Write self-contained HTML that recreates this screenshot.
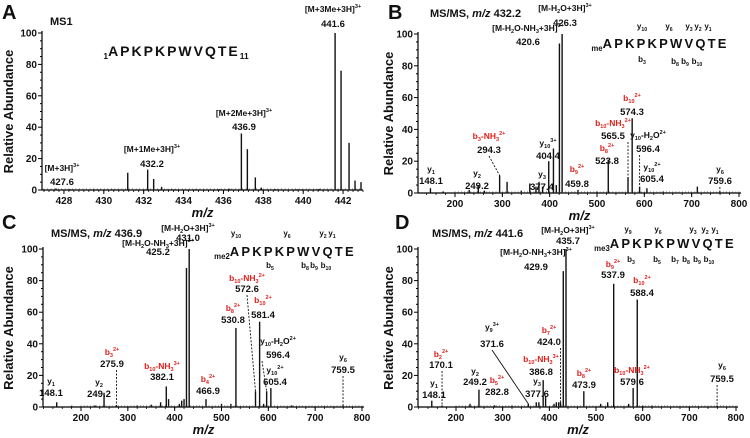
<!DOCTYPE html>
<html><head><meta charset="utf-8"><style>
html,body{margin:0;padding:0;background:#fff;}
svg{display:block;font-family:"Liberation Sans",Arial,sans-serif;}
</style></head><body>
<svg id="fig" width="750" height="438" viewBox="0 0 750 438" xmlns="http://www.w3.org/2000/svg"></svg>
<script>
// ---------- Panel A data ----------
const aMz  = [427.6,428.3,429.5,430.4,431.2,432.2,432.5,432.9,433.4,434.6,435.8,436.3,436.9,437.2,437.6,437.9,438.6,439.7,440.8,441.6,441.9,442.3,442.6,442.9];
const aInt = [1,0.6,0.5,0.5,11,13,7,2,0.6,0.5,0.6,0.8,36,26,8,1.5,0.6,0.5,0.7,100,76,30,6,5];
// ---------- Panel B data ----------
const bMz  = [148.1,175,230,249.2,262,294.3,310,340,358,371,377.4,385,398,408,414,420.6,426.3,459.8,500,523.8,565.5,574.3,590,605.4,640,712,759.6];
const bInt = [3,1,2,5,1.5,11,7,1.5,6,4,7,4,20,28,5,94,100,2,1,21,10,47,4,3,1,4,1];
// ---------- Panel C data ----------
const cMz  = [148.1,180,230,249.2,275.9,320,350,370,382.1,387,410,415,420,425.2,431.0,466.9,500,520,530.8,572.6,581.4,590,596.4,605.4,650,759.5];
const cInt = [3,0.8,1,9,1,1,1.5,3,13,5,2,4,5,88,100,5,2,2,50,10,54,2,10,12,1,1];
// ---------- Panel D data ----------
const dMz  = [148.1,170.1,230,249.2,282.8,320,355,372,377.6,386.8,392,410,415,420,424.0,429.9,435.7,473.9,510,525,537.9,570,579.6,588.4,600,620,759.5];
const dInt = [4,1,2,11,1,1,2,3,3,17,7,2,3,3,3,86,100,10,2,3,78,2,12,68,1,1,1];
// ---------- tick labels ----------
const aXTicks = [428,430,432,434,436,438,440,442];
const msXTicks = [200,300,400,500,600,700,800];
const yTicks = [0,20,40,60,80,100];

const NS="http://www.w3.org/2000/svg";
const svg=document.getElementById('fig');
function el(tag,attrs,parent){const e=document.createElementNS(NS,tag);for(const k in attrs)e.setAttribute(k,attrs[k]);(parent||svg).appendChild(e);return e;}

function rich(t,x,y,opts,parent){
  const sz=opts.size||9;
  const tx=el('text',{x:x,y:y,'text-anchor':opts.anchor||'middle','font-size':sz,'font-weight':opts.weight||'bold',fill:opts.color||'#111'},parent);
  const re=/(_[^_]*_|\^[^^]*\^|[^_^]+)/g;let m;
  while((m=re.exec(t))){const s=m[0];
    if(s[0]==='_'){const a=el('tspan',{'font-size':sz*0.65,dy:2},tx);a.textContent=s.slice(1,-1);const b=el('tspan',{dy:-2,'font-size':sz},tx);b.textContent='\u200B';}
    else if(s[0]==='^'){const a=el('tspan',{'font-size':sz*0.65,dy:-4},tx);a.textContent=s.slice(1,-1);const b=el('tspan',{dy:4,'font-size':sz},tx);b.textContent='\u200B';}
    else{const a=el('tspan',{},tx);a.textContent=s;}
  }
  return tx;
}

function panel(p){
  const g=el('g',{});
  
  
  const sx=v=>p.xr[0]+(v-p.xd[0])*(p.xr[1]-p.xr[0])/(p.xd[1]-p.xd[0]);
  const sy=v=>p.yr[1]-v*(p.yr[1]-p.yr[0])/100;
  const base=p.yr[1];
  const ya=el('line',{x1:p.ax,y1:p.yr[0]-2,x2:p.ax,y2:base,stroke:'#000','stroke-width':1.2},g);
  
  const xa=el('line',{x1:p.ax,y1:base,x2:p.axEnd,y2:base,stroke:'#000','stroke-width':1.2},g);
  
  for(let v=0;v<=100;v+=5){el('line',{x1:p.ax-(v%20===0?4:2),y1:sy(v),x2:p.ax,y2:sy(v),stroke:'#000','stroke-width':1},g);}
  yTicks.forEach(v=>{const t=el('text',{x:p.ax-5,y:sy(v)+3.5,'text-anchor':'end','font-size':10,'font-weight':'bold',fill:'#111'},g);t.textContent=v;
    });
  for(let v=p.minorStart;v<=p.xd[1]+1e-9;v+=p.minor){const x=sx(v);if(x<p.ax||x>p.axEnd)continue;el('line',{x1:x,y1:base,x2:x,y2:base+2,stroke:'#000','stroke-width':0.8},g);}
  p.xTicks.forEach(v=>{const x=sx(v);el('line',{x1:x,y1:base,x2:x,y2:base+4,stroke:'#000','stroke-width':1},g);
    const t=el('text',{x:x,y:base+14,'text-anchor':'middle','font-size':10,'font-weight':'bold',fill:'#111'},g);t.textContent=v;
    });
  const yt=el('text',{x:0,y:0,transform:`translate(${p.ytX},${(p.yr[0]+base)/2}) rotate(-90)`,'text-anchor':'middle','font-size':13,'font-weight':'bold',fill:'#111'},g);
  yt.textContent='Relative Abundance';
  const xt=el('text',{x:(p.ax+p.axEnd)/2,y:base+27,'text-anchor':'middle','font-size':13,'font-weight':'bold','font-style':'italic',fill:'#111'},g);
  xt.textContent='m/z';
  p.mz.forEach((m,i)=>{const b=el('line',{x1:sx(m),y1:base,x2:sx(m),y2:sy(p.int[i]),stroke:'#111','stroke-width':1.4},g);
    });
  for(let v=p.xd[0];v<p.xd[1];v+=(p.xd[1]-p.xd[0])/90){el('line',{x1:sx(v),y1:base,x2:sx(v),y2:base-1.5,stroke:'#333','stroke-width':0.7},g);}
  p.labels.forEach(L=>{
    const lg=el('g',{},g);
    
    rich(L.t,L.x,L.y1,{color:L.red?'#e0201b':'#111',size:8.5},lg);
    rich(L.v,L.x,L.y2,{size:9.5},lg);
    if(L.lead){const pk=p.mz.indexOf(L.lead);const px=sx(L.lead);const py=L.toBase?base:sy(p.int[pk]);
      const x1=L.vert?px:(L.lx!==undefined?L.lx:L.x);
      el('line',{x1:x1,y1:L.y2+3,x2:px,y2:py,stroke:'#111','stroke-width':0.9,'stroke-dasharray':L.solid?'':'2,1.5'},lg);}
  });
  const pl=el('text',{x:p.letter[0],y:p.letter[1],'font-size':20,'font-weight':'bold',fill:'#111'},g);pl.textContent=p.letterText;
  
  const ti=el('text',{x:p.title[0],y:p.title[1],'font-size':11,'font-weight':'bold',fill:'#111'},g);
  
  if(p.titleText==='MS1'){ti.textContent='MS1';}
  else{const a=el('tspan',{},ti);a.textContent='MS/MS, ';const b=el('tspan',{'font-style':'italic'},ti);b.textContent='m/z';const c=el('tspan',{},ti);c.textContent=' '+p.titleText;}
  const sg=el('g',{},g);
  const st=el('text',{x:p.seq[0],y:p.seq[1],'text-anchor':'middle','font-size':p.seqSize,'font-weight':'bold',fill:'#111','letter-spacing':p.seqSpace||0},sg);
  const pre=el('tspan',{'font-size':p.seqSize*0.6,dy:3,'letter-spacing':0},st);pre.textContent=p.seqPre;
  const mid=el('tspan',{dy:-3},st);mid.textContent=p.seqText;
  if(p.seqPost){const po=el('tspan',{'font-size':p.seqSize*0.6,dy:3,'letter-spacing':0},st);po.textContent=p.seqPost;}
  (p.frag||[]).forEach(f=>{rich(f[0],f[1],f[2],{size:8},sg);});
  return sx;
}

panel({name:'panel-a-ms1',xd:[427,443],xr:[44,363],yr:[33,190],ax:42,axEnd:363,mz:aMz,int:aInt,xTicks:aXTicks,minor:0.25,minorStart:427,ytX:13,
  letter:[2,19],letterText:'A',title:[50,25],titleText:'MS1',seq:[176,56],seqSize:14,seqSpace:2,seqPre:'1',seqText:'APKPKPWVQTE',seqPost:'11',
  labels:[
    {t:'[M+3H]^3+^',v:'427.6',x:62,y1:171,y2:185},
    {t:'[M+1Me+3H]^3+^',v:'432.2',x:152,y1:152,y2:167},
    {t:'[M+2Me+3H]^3+^',v:'436.9',x:244,y1:116,y2:130},
    {t:'[M+3Me+3H]^3+^',v:'441.6',x:333,y1:12,y2:27}
  ]});

panel({name:'panel-b-msms-432',xd:[200,800],xr:[455,739],yr:[34,193],ax:418,axEnd:741,mz:bMz,int:bInt,xTicks:msXTicks,minor:20,minorStart:120,ytX:393,
  letter:[388,19],letterText:'B',title:[430,17],titleText:'432.2',seq:[660,48],seqSize:13,seqSpace:2.2,seqPre:'me',seqText:'APKPKPWVQTE',
  frag:[['y_10_',642,29],['y_6_',669,29],['y_3_',689,29],['y_2_',698,29],['y_1_',708,29],['b_3_',642,62],['b_8_',675,64],['b_9_',685,64],['b_10_',697,64]],
  labels:[
    {t:'y_1_',v:'148.1',x:431,y1:172,y2:184},
    {t:'y_2_',v:'249.2',x:477,y1:176,y2:189},
    {t:'b_3_-NH_3_^2+^',v:'294.3',x:489,y1:139,y2:153,red:1,lead:294.3,lx:489},
    {t:'y_3_',v:'377.4',x:542,y1:177,y2:190},
    {t:'y_10_^3+^',v:'404.4',x:548,y1:146,y2:159},
    {t:'b_9_^2+^',v:'459.8',x:577,y1:172,y2:187,red:1},
    {t:'b_8_^2+^',v:'523.8',x:607,y1:151,y2:164,red:1},
    {t:'b_10_-NH_3_^2+^',v:'565.5',x:613,y1:126,y2:139,red:1,lead:565.5,vert:1},
    {t:'b_10_^2+^',v:'574.3',x:632,y1:101,y2:115,red:1},
    {t:'y_10_-H_2_O^2+^',v:'596.4',x:648,y1:138,y2:152,lead:590,vert:1},
    {t:'y_10_^2+^',v:'605.4',x:652,y1:170,y2:182},
    {t:'y_6_',v:'759.6',x:720,y1:172,y2:184,lead:759.6,toBase:1,vert:1},
    {t:'[M-H_2_O+3H]^3+^',v:'426.3',x:565,y1:11,y2:26},
    {t:'[M-H_2_O-NH_3_+3H]^3+^',v:'420.6',x:528,y1:31,y2:45}
  ]});

panel({name:'panel-c-msms-436',xd:[200,800],xr:[81,362],yr:[249,407],ax:43,axEnd:364,mz:cMz,int:cInt,xTicks:msXTicks,minor:20,minorStart:120,ytX:13,
  letter:[2,229],letterText:'C',title:[51,237],titleText:'436.9',seq:[285,256],seqSize:13,seqSpace:2.2,seqPre:'me2',seqText:'APKPKPWVQTE',
  frag:[['y_10_',236,236],['y_6_',287,236],['y_2_',323,236],['y_1_',332,236],['b_5_',270,268],['b_8_',305,268],['b_9_',314,268],['b_10_',326,268]],
  labels:[
    {t:'y_1_',v:'148.1',x:51,y1:384,y2:396},
    {t:'y_2_',v:'249.2',x:99,y1:385,y2:397},
    {t:'b_3_^2+^',v:'275.9',x:112,y1:355,y2:367,red:1,lead:275.9,toBase:1,vert:1},
    {t:'b_10_-NH_3_^3+^',v:'382.1',x:162,y1:369,y2:380,red:1},
    {t:'b_4_^2+^',v:'466.9',x:208,y1:382,y2:394,red:1},
    {t:'b_8_^2+^',v:'530.8',x:233,y1:311,y2:323,red:1},
    {t:'b_10_-NH_3_^2+^',v:'572.6',x:247,y1:281,y2:292,red:1,lead:572.6},
    {t:'b_10_^2+^',v:'581.4',x:263,y1:303,y2:318,red:1},
    {t:'y_10_-H_2_O^2+^',v:'596.4',x:278,y1:344,y2:358,lead:596.4,lx:262},
    {t:'y_10_^2+^',v:'605.4',x:275,y1:373,y2:385},
    {t:'y_6_',v:'759.5',x:343,y1:360,y2:373,lead:759.5,toBase:1,vert:1},
    {t:'[M-H_2_O+3H]^3+^',v:'431.0',x:188,y1:231,y2:241},
    {t:'[M-H_2_O-NH_3_+3H]^3+^',v:'425.2',x:158,y1:246,y2:255}
  ]});

panel({name:'panel-d-msms-441',xd:[200,800],xr:[456,736],yr:[249,407],ax:418,axEnd:738,mz:dMz,int:dInt,xTicks:msXTicks,minor:20,minorStart:120,ytX:393,
  letter:[395,229],letterText:'D',title:[432,237],titleText:'441.6',seq:[665,248],seqSize:13,seqSpace:2.2,seqPre:'me3',seqText:'APKPKPWVQTE',
  frag:[['y_9_',628,232],['y_6_',658,232],['y_3_',693,232],['y_2_',705,232],['y_1_',715,232],['b_3_',631,262],['b_5_',657,262],['b_7_',675,262],['b_8_',686,262],['b_9_',697,262],['b_10_',709,262]],
  labels:[
    {t:'y_1_',v:'148.1',x:434,y1:386,y2:398},
    {t:'b_2_^2+^',v:'170.1',x:441,y1:357,y2:368,red:1,lead:170.1,toBase:1,vert:1},
    {t:'y_2_',v:'249.2',x:475,y1:374,y2:385},
    {t:'b_5_^2+^',v:'282.8',x:497,y1:383,y2:395,red:1},
    {t:'y_9_^3+^',v:'371.6',x:492,y1:330,y2:347,lead:355,lx:492,solid:1},
    {t:'y_3_',v:'377.6',x:537,y1:384,y2:397},
    {t:'b_10_-NH_3_^3+^',v:'386.8',x:541,y1:362,y2:375,red:1},
    {t:'b_7_^2+^',v:'424.0',x:549,y1:333,y2:345,red:1,lead:424.0,vert:1},
    {t:'b_8_^2+^',v:'473.9',x:584,y1:376,y2:388,red:1},
    {t:'b_9_^2+^',v:'537.9',x:613,y1:267,y2:278,red:1},
    {t:'b_10_^2+^',v:'588.4',x:642,y1:283,y2:296,red:1},
    {t:'b_10_-NH_3_^2+^',v:'579.6',x:632,y1:373,y2:385,red:1},
    {t:'y_6_',v:'759.5',x:722,y1:368,y2:382,lead:759.5,toBase:1,vert:1},
    {t:'[M-H_2_O+3H]^3+^',v:'435.7',x:568,y1:233,y2:244},
    {t:'[M-H_2_O-NH_3_+3H]^3+^',v:'429.9',x:536,y1:255,y2:270}
  ]});
</script>
</body></html>
